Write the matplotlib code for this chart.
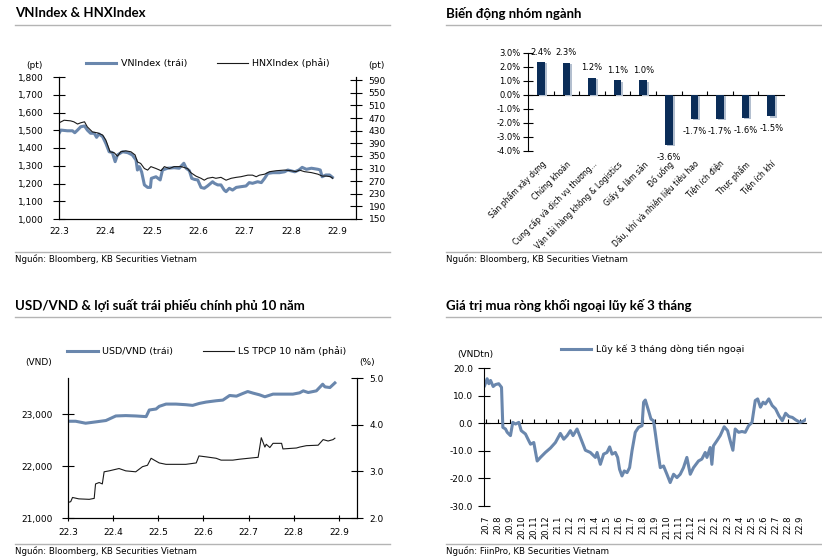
import numpy as np
import matplotlib
matplotlib.use("Agg")
import matplotlib.pyplot as plt
from matplotlib import patheffects as pe

plt.rcParams['font.family'] = ['DejaVu Sans']
TITLE_FONT = ['Lato', 'DejaVu Sans']

W, H = 822, 559
BLUE = '#6a87ad'
NAVY = '#0b2d58'
GRAY = '#b4b4b4'

# ---- VNIndex & HNXIndex (x = tháng tính từ 22.3)
vn_x = [-0.02, 0.04, 0.18, 0.29, 0.34, 0.40, 0.47, 0.55, 0.61, 0.68, 0.76, 0.81, 0.86, 0.94, 1.01,
        1.08, 1.15, 1.21, 1.26, 1.37, 1.48, 1.58, 1.66, 1.69, 1.73, 1.78, 1.84, 1.91, 1.97, 1.99,
        2.09, 2.18, 2.23, 2.34, 2.48, 2.59, 2.69, 2.74, 2.81, 2.86, 2.92, 2.99, 3.06, 3.13, 3.20,
        3.31, 3.35, 3.42, 3.49, 3.56, 3.60, 3.67, 3.74, 3.82, 3.92, 4.03, 4.10, 4.17, 4.28, 4.36,
        4.43, 4.50, 4.61, 4.75, 4.86, 4.93, 5.08, 5.17, 5.24, 5.33, 5.44, 5.58, 5.63, 5.67, 5.75,
        5.83, 5.89]
vn_val = [1473, 1501, 1497, 1497, 1486, 1501, 1520, 1524, 1501, 1483, 1483, 1460, 1479, 1464, 1426,
          1379, 1374, 1323, 1361, 1379, 1374, 1361, 1332, 1276, 1295, 1266, 1192, 1178, 1178, 1229,
          1238, 1220, 1276, 1286, 1289, 1286, 1314, 1286, 1272, 1229, 1223, 1220, 1178, 1173, 1186,
          1210, 1201, 1192, 1192, 1163, 1154, 1173, 1163, 1178, 1182, 1186, 1205, 1201, 1210, 1205,
          1229, 1257, 1261, 1261, 1266, 1276, 1266, 1276, 1291, 1280, 1286, 1280, 1276, 1238, 1248,
          1248, 1235]
hnx_x = [-0.02, 0.11, 0.25, 0.32, 0.40, 0.47, 0.55, 0.61, 0.72, 0.83, 0.94, 1.01, 1.10, 1.19, 1.26,
         1.33, 1.44, 1.55, 1.64, 1.69, 1.76, 1.84, 1.91, 1.98, 2.09, 2.20, 2.27, 2.38, 2.48, 2.63,
         2.77, 2.84, 2.95, 3.06, 3.13, 3.20, 3.31, 3.38, 3.49, 3.60, 3.71, 3.82, 3.92, 4.07, 4.17,
         4.25, 4.32, 4.43, 4.54, 4.68, 4.86, 5.00, 5.11, 5.18, 5.29, 5.44, 5.58, 5.67, 5.76, 5.85,
         5.90]
hnx_val = [453, 463, 461, 458, 451, 455, 458, 442, 426, 423, 416, 400, 363, 360, 349,
           363, 366, 363, 353, 331, 326, 310, 305, 316, 310, 303, 316, 310, 316, 316,
           310, 297, 286, 279, 273, 279, 282, 279, 282, 273, 279, 282, 284, 289, 289,
           284, 289, 292, 300, 303, 305, 303, 300, 305, 300, 297, 292, 286, 286, 284,
           279]
month_labels_22 = ['22.3', '22.4', '22.5', '22.6', '22.7', '22.8', '22.9']

# ---- Biến động nhóm ngành
sectors = ['Sản phẩm xây dựng', 'Chứng khoán', 'Cung cấp và dịch vụ thương...',
           'Vận tải hàng không & Logistics', 'Giấy & lâm sản', 'Đồ uống',
           'Dầu, khí và nhiên liệu tiêu hao', 'Tiện ích điện', 'Thực phẩm', 'Tiện ích khí']
sector_chg = [2.37, 2.31, 1.24, 1.06, 1.04, -3.57, -1.68, -1.68, -1.61, -1.52]

# ---- USD/VND & LS TPCP 10 năm
usd_x = [-0.01, 0.17, 0.39, 0.61, 0.84, 1.06, 1.28, 1.50, 1.73, 1.80, 1.95, 2.02, 2.17, 2.39, 2.61,
         2.76, 2.91, 3.06, 3.28, 3.43, 3.58, 3.73, 3.87, 3.98, 4.10, 4.24, 4.36, 4.54, 4.76, 4.98,
         5.13, 5.21, 5.32, 5.50, 5.64, 5.69, 5.80, 5.91]
usd_val = [22866, 22866, 22828, 22853, 22880, 22968, 22975, 22968, 22955, 23083, 23102, 23153, 23197,
           23197, 23185, 23172, 23210, 23236, 23261, 23274, 23363, 23350, 23401, 23439, 23408, 23376,
           23338, 23389, 23389, 23389, 23414, 23452, 23420, 23452, 23580, 23529, 23516, 23605]
bond_x = [-0.01, 0.06, 0.10, 0.24, 0.47, 0.58, 0.61, 0.69, 0.76, 0.80, 0.91, 1.13, 1.28, 1.50, 1.65,
          1.76, 1.84, 1.91, 2.02, 2.17, 2.39, 2.61, 2.84, 2.90, 3.06, 3.28, 3.39, 3.65, 3.80, 4.10,
          4.21, 4.28, 4.36, 4.39, 4.47, 4.54, 4.73, 4.76, 4.91, 5.06, 5.13, 5.28, 5.54, 5.65, 5.76,
          5.87, 5.91]
bond_val = [2.33, 2.35, 2.44, 2.41, 2.40, 2.42, 2.73, 2.76, 2.73, 2.99, 3.01, 3.06, 3.01, 2.99, 3.10,
            3.13, 3.28, 3.24, 3.18, 3.15, 3.15, 3.15, 3.18, 3.33, 3.31, 3.28, 3.24, 3.24, 3.26, 3.29,
            3.30, 3.72, 3.52, 3.58, 3.51, 3.60, 3.60, 3.48, 3.49, 3.50, 3.52, 3.55, 3.56, 3.68, 3.65,
            3.68, 3.71]

# ---- Giá trị mua ròng khối ngoại lũy kế 3 tháng (x = tháng tính từ 20.7)
flow_x = [-0.10, 0.11, 0.25, 0.39, 0.61, 0.80, 1.07, 1.30, 1.41, 1.63, 1.77, 2.04, 2.23, 2.46, 2.73,
          2.93, 3.28, 3.56, 3.70, 3.97, 4.25, 4.52, 4.93, 5.35, 5.76, 6.17, 6.45, 6.73, 7.00, 7.22,
          7.55, 7.83, 8.24, 8.65, 9.07, 9.21, 9.48, 9.75, 10.03, 10.25, 10.45, 10.72, 10.91, 11.07,
          11.27, 11.46, 11.69, 11.90, 12.10, 12.37, 12.64, 12.93, 13.06, 13.20, 13.47, 13.67, 13.88,
          14.02, 14.21, 14.44, 14.71, 14.99, 15.26, 15.54, 15.82, 16.09, 16.36, 16.64, 16.92, 17.19,
          17.60, 17.88, 18.16, 18.30, 18.57, 18.71, 18.84, 19.12, 19.40, 19.73, 20.01, 20.23, 20.45,
          20.64, 20.92, 21.20, 21.47, 21.75, 22.03, 22.30, 22.50, 22.73, 22.95, 23.14, 23.42, 23.70,
          23.98, 24.26, 24.54, 24.81, 25.09, 25.37, 25.65, 26.00, 26.28, 26.47]
flow_val = [13.6, 16.1, 14.3, 15.5, 13.3, 14.0, 14.3, 13.0, -1.5, -2.1, -3.3, -4.5, 0.3, -0.3, 0.3,
            -2.7, -3.9, -6.4, -7.6, -7.0, -13.7, -12.4, -10.6, -9.0, -7.0, -3.7, -5.8, -4.5, -2.7, -4.5,
            -2.1, -5.2, -9.8, -10.6, -12.4, -10.6, -14.9, -11.2, -10.6, -8.6, -11.2, -10.6, -12.4, -16.7,
            -19.1, -17.3, -17.9, -16.1, -10.0, -3.3, -1.5, -0.9, 7.6, 8.4, 4.5, 1.5, 0.9,
            -3.3, -9.4, -16.1, -15.5, -18.5, -21.5, -18.5, -19.7, -18.5, -16.1, -12.4, -18.5, -16.1,
            -13.7, -13.0, -10.6, -12.4, -8.8, -14.9, -8.2, -6.4, -4.5, -1.3, -2.7, -6.4, -9.8,
            -2.1, -3.3, -3.0, -3.3, -0.9, 0.3, 8.2, 8.8, 5.8, 7.6, 7.0, 8.8, 6.4,
            5.2, 2.7, 0.9, 3.6, 2.4, 2.1, 1.2, 0.3, 0.7, 1.3]
flow_labels = ['20.7', '20.8', '20.9', '20.10', '20.11', '20.12', '21.1', '21.2', '21.3', '21.4',
               '21.5', '21.6', '21.7', '21.8', '21.9', '21.10', '21.11', '21.12', '22.1', '22.2',
               '22.3', '22.4', '22.5', '22.6', '22.7', '22.8', '22.9']


def rect(l, t, r, b):
    return [l / W, 1 - b / H, (r - l) / W, (b - t) / H]


def fx(x):
    return x / W


def fy(y):
    return 1 - y / H


fig = plt.figure(figsize=(W / 100, H / 100), dpi=100)

# khung tiêu đề / nguồn cho 4 ô
panels = [(15, 390, 13, 25, 252, 259, 'VNIndex & HNXIndex', 'Nguồn: Bloomberg, KB Securities Vietnam'),
          (446, 821, 13, 25, 252, 259, 'Biến động nhóm ngành', 'Nguồn: Bloomberg, KB Securities Vietnam'),
          (15, 390, 305, 317, 544, 551, 'USD/VND & lợi suất trái phiếu chính phủ 10 năm',
           'Nguồn: Bloomberg, KB Securities Vietnam'),
          (446, 821, 305, 317, 544, 551, 'Giá trị mua ròng khối ngoại lũy kế 3 tháng',
           'Nguồn: FiinPro, KB Securities Vietnam')]
for x0, x1, ty, ly, sy, st, title, src in panels:
    fig.text(fx(x0), fy(ty), title, fontsize=9.5, fontweight='bold', family=TITLE_FONT,
             ha='left', va='center')
    fig.add_artist(plt.Line2D([fx(x0), fx(x1)], [fy(ly), fy(ly)], color=GRAY, lw=1))
    fig.add_artist(plt.Line2D([fx(x0), fx(x1)], [fy(sy), fy(sy)], color=GRAY, lw=1))
    fig.text(fx(x0), fy(st), src, fontsize=6.2, ha='left', va='center')

# ===== VNIndex & HNXIndex
ax1 = fig.add_axes(rect(59, 77, 356, 219))
ax1.plot(vn_x, vn_val, color=BLUE, lw=2.2, label='VNIndex (trái)')
ax1.set_ylim(1000, 1800)
ax1.set_yticks(range(1000, 1801, 100))
ax1.set_yticklabels([f'{v:,}' for v in range(1000, 1801, 100)])
ax1.set_xlim(0, 6.4)
ax1.set_xticks(range(7))
ax1.set_xticklabels(month_labels_22)
ax1.tick_params(axis='y', direction='inout', length=8, width=0.8, labelsize=6.5, pad=7)
ax1.tick_params(axis='x', length=0, labelsize=6.5, pad=6)
ax1.spines['top'].set_visible(False)
ax1r = ax1.twinx()
ax1r.plot(hnx_x, hnx_val, color='#1a1a1a', lw=0.8, label='HNXIndex (phải)')
ax1r.set_ylim(150, 600)
ax1r.set_yticks(range(150, 591, 40))
ax1r.tick_params(axis='y', direction='inout', length=8, width=0.8, labelsize=6.5, pad=5)
ax1r.spines['top'].set_visible(False)
for a in (ax1, ax1r):
    for s in a.spines.values():
        s.set_linewidth(0.8)
h1 = ax1.get_lines() + ax1r.get_lines()
fig.legend(h1, [l.get_label() for l in h1], loc='center', bbox_to_anchor=(fx(208), fy(63)),
           ncol=2, frameon=False, fontsize=6.8, handlelength=3.2, columnspacing=3.2,
           handletextpad=0.5)
fig.text(fx(34), fy(66), '(pt)', fontsize=6.5, ha='center', va='center')
fig.text(fx(376), fy(66), '(pt)', fontsize=6.5, ha='center', va='center')

# ===== Biến động nhóm ngành
ax2 = fig.add_axes(rect(528, 53, 784, 151))
xs = np.arange(len(sectors))
bars = ax2.bar(xs, sector_chg, width=0.29, color=NAVY)
for b in bars:
    b.set_path_effects([pe.SimplePatchShadow(offset=(1.5, -1), shadow_rgbFace='#b3bfcf', alpha=1),
                        pe.Normal()])
for x, v in zip(xs, sector_chg):
    ax2.annotate(f'{v:.1f}%', (x, v), xytext=(0, 7 if v > 0 else -9), textcoords='offset points',
                 ha='center', va='center', fontsize=6)
ax2.set_xlim(-0.5, len(sectors) - 0.5)
ax2.set_ylim(-4, 3)
ax2.set_yticks(range(-4, 4))
ax2.set_yticklabels([f'{v:.1f}%' for v in range(-4, 4)])
ax2.set_xticks(xs)
ax2.set_xticklabels(sectors, rotation=45, ha='right', rotation_mode='anchor')
ax2.tick_params(axis='x', length=0, labelsize=5.5, pad=6)
ax2.tick_params(axis='y', direction='inout', length=7, width=0.8, labelsize=6, pad=2)
for s in ('top', 'right', 'bottom'):
    ax2.spines[s].set_visible(False)
ax2.spines['left'].set_linewidth(0.8)
zero2 = ax2.secondary_xaxis(4 / 7)
zero2.set_xticks(xs[:-1] + 0.5)
zero2.tick_params(direction='out', length=3, width=0.8, labeltop=False, labelbottom=False)
for s in zero2.spines.values():
    s.set_linewidth(0.8)

# ===== USD/VND & LS TPCP
ax3 = fig.add_axes(rect(68, 378, 357, 518))
ax3.plot(usd_x, usd_val, color=BLUE, lw=2.2, label='USD/VND (trái)')
ax3.set_ylim(21000, 23700)
ax3.set_yticks([21000, 22000, 23000])
ax3.set_yticklabels(['21,000', '22,000', '23,000'])
ax3.set_xlim(0, 6.4)
ax3.set_xticks(range(7))
ax3.set_xticklabels(month_labels_22)
ax3.tick_params(axis='y', direction='inout', length=8, width=0.8, labelsize=6.5, pad=7)
ax3.tick_params(axis='x', direction='inout', length=4, width=0.8, labelsize=6.5, pad=5)
ax3.spines['top'].set_visible(False)
ax3r = ax3.twinx()
ax3r.plot(bond_x, bond_val, color='#1a1a1a', lw=0.8, label='LS TPCP 10 năm (phải)')
ax3r.set_ylim(2, 5)
ax3r.set_yticks([2, 3, 4, 5])
ax3r.set_yticklabels(['2.0', '3.0', '4.0', '5.0'])
ax3r.tick_params(axis='y', direction='inout', length=8, width=0.8, labelsize=6.5, pad=5)
ax3r.spines['top'].set_visible(False)
for a in (ax3, ax3r):
    for s in a.spines.values():
        s.set_linewidth(0.8)
h3 = ax3.get_lines() + ax3r.get_lines()
fig.legend(h3, [l.get_label() for l in h3], loc='center', bbox_to_anchor=(fx(207), fy(351)),
           ncol=2, frameon=False, fontsize=6.8, handlelength=3.2, columnspacing=3.2,
           handletextpad=0.5)
fig.text(fx(39), fy(363), '(VND)', fontsize=6.5, ha='center', va='center')
fig.text(fx(367), fy(363), '(%)', fontsize=6.5, ha='center', va='center')

# ===== Khối ngoại
ax4 = fig.add_axes(rect(484, 368, 806, 506))
ax4.plot(flow_x, flow_val, color=BLUE, lw=2.2, label='Lũy kế 3 tháng dòng tiền ngoại')
ax4.set_ylim(-30, 20)
ax4.set_yticks(range(-30, 21, 10))
ax4.set_yticklabels([f'{v:.1f}' for v in range(-30, 21, 10)])
ax4.set_xlim(-0.15, 26.5)
ax4.set_xticks(range(len(flow_labels)))
ax4.set_xticklabels(flow_labels, rotation=90, va='top')
ax4.tick_params(axis='x', length=0, labelsize=6, pad=7)
ax4.tick_params(axis='y', direction='inout', length=8, width=0.8, labelsize=6.5, pad=4)
for s in ('top', 'right', 'bottom'):
    ax4.spines[s].set_visible(False)
ax4.spines['left'].set_linewidth(0.8)
zero4 = ax4.secondary_xaxis(30 / 50)
zero4.set_xticks(range(len(flow_labels)))
zero4.tick_params(direction='out', length=3, width=0.8, labeltop=False, labelbottom=False)
for s in zero4.spines.values():
    s.set_linewidth(0.8)
ax4.legend(loc='center left', bbox_to_anchor=(fx(561), fy(349)),
           bbox_transform=fig.transFigure, frameon=False, fontsize=6.8, handlelength=3.2,
           handletextpad=0.5, borderaxespad=0, borderpad=0)
fig.text(fx(475), fy(354), '(VNDtn)', fontsize=6.5, ha='center', va='center')

fig.savefig('out.png', dpi=100)
